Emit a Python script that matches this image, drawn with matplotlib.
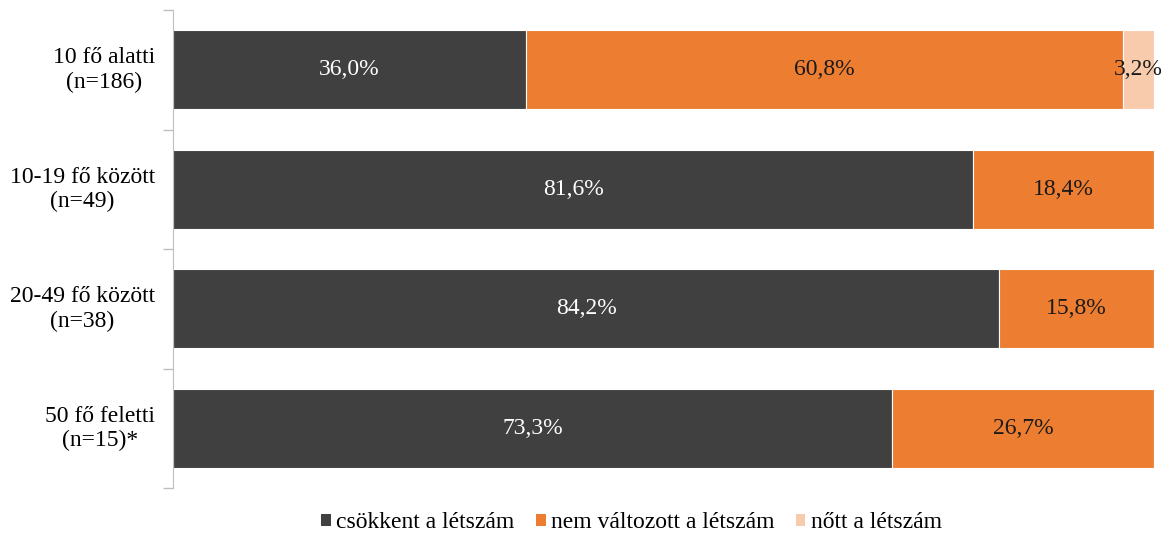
import matplotlib
matplotlib.use("Agg")
import matplotlib.pyplot as plt
import matplotlib.transforms as mtransforms
from matplotlib.patches import Patch

categories = ["10 fő alatti\n(n=186)", "10-19 fő között\n(n=49)", "20-49 fő között\n(n=38)", "50 fő feletti\n(n=15)*"]
csokkent = [36.0, 81.6, 84.2, 73.3]
nem_valtozott = [60.8, 18.4, 15.8, 26.7]
nott = [3.2, 0.0, 0.0, 0.0]
series_names = ["csökkent a létszám", "nem változott a létszám", "nőtt a létszám"]
colors = ["#404040", "#ED7D31", "#F8CBAD"]
text_colors = ["white", "#1a1a1a", "#1a1a1a"]

plt.rcParams['font.family'] = ['Liberation Serif', 'DejaVu Serif']

fig = plt.figure(figsize=(11.67, 5.38), dpi=100)
ax = fig.add_axes([173/1167, 50/538, (1154-173)/1167, (488-10)/538])

y = list(range(len(categories)))
left = [0.0] * len(categories)
for vals, col, tcol in zip([csokkent, nem_valtozott, nott], colors, text_colors):
    ax.barh(y, vals, left=left, height=0.66, color=col, edgecolor="white", linewidth=0.8)
    for yi, l, v in zip(y, left, vals):
        if v > 0:
            ax.text(l + v / 2, yi, f"{v:.1f}%".replace(".", ","), ha="center", va="center",
                    color=tcol, fontsize=17)
    left = [a + b for a, b in zip(left, vals)]

ax.set_xlim(0, 100)
ax.set_ylim(len(categories) - 0.5, -0.5)
ax.set_xticks([])
ax.set_yticks(y)
ax.set_yticklabels(categories, fontsize=17, multialignment="center", linespacing=1.2)
ax.set_yticks([i - 0.5 for i in range(len(categories) + 1)], minor=True)
ax.tick_params(axis="y", which="major", length=0, pad=13)
ax.tick_params(axis="y", which="minor", length=7, color="#BFBFBF", width=1)
offset = mtransforms.ScaledTranslation(0, 4/100, fig.dpi_scale_trans)
for lbl in ax.get_yticklabels():
    lbl.set_transform(lbl.get_transform() + offset)
for s in ["top", "right", "bottom"]:
    ax.spines[s].set_visible(False)
ax.spines["left"].set_color("#BFBFBF")

handles = [Patch(facecolor=c, edgecolor="none") for c in colors]
fig.legend(handles, series_names, loc="center", bbox_to_anchor=(0.541, 1 - 523/538),
           ncol=3, frameon=False, fontsize=17, handlelength=0.42, handleheight=0.42,
           handletextpad=0.22, columnspacing=0.9)

fig.savefig("out.png", dpi=100)
